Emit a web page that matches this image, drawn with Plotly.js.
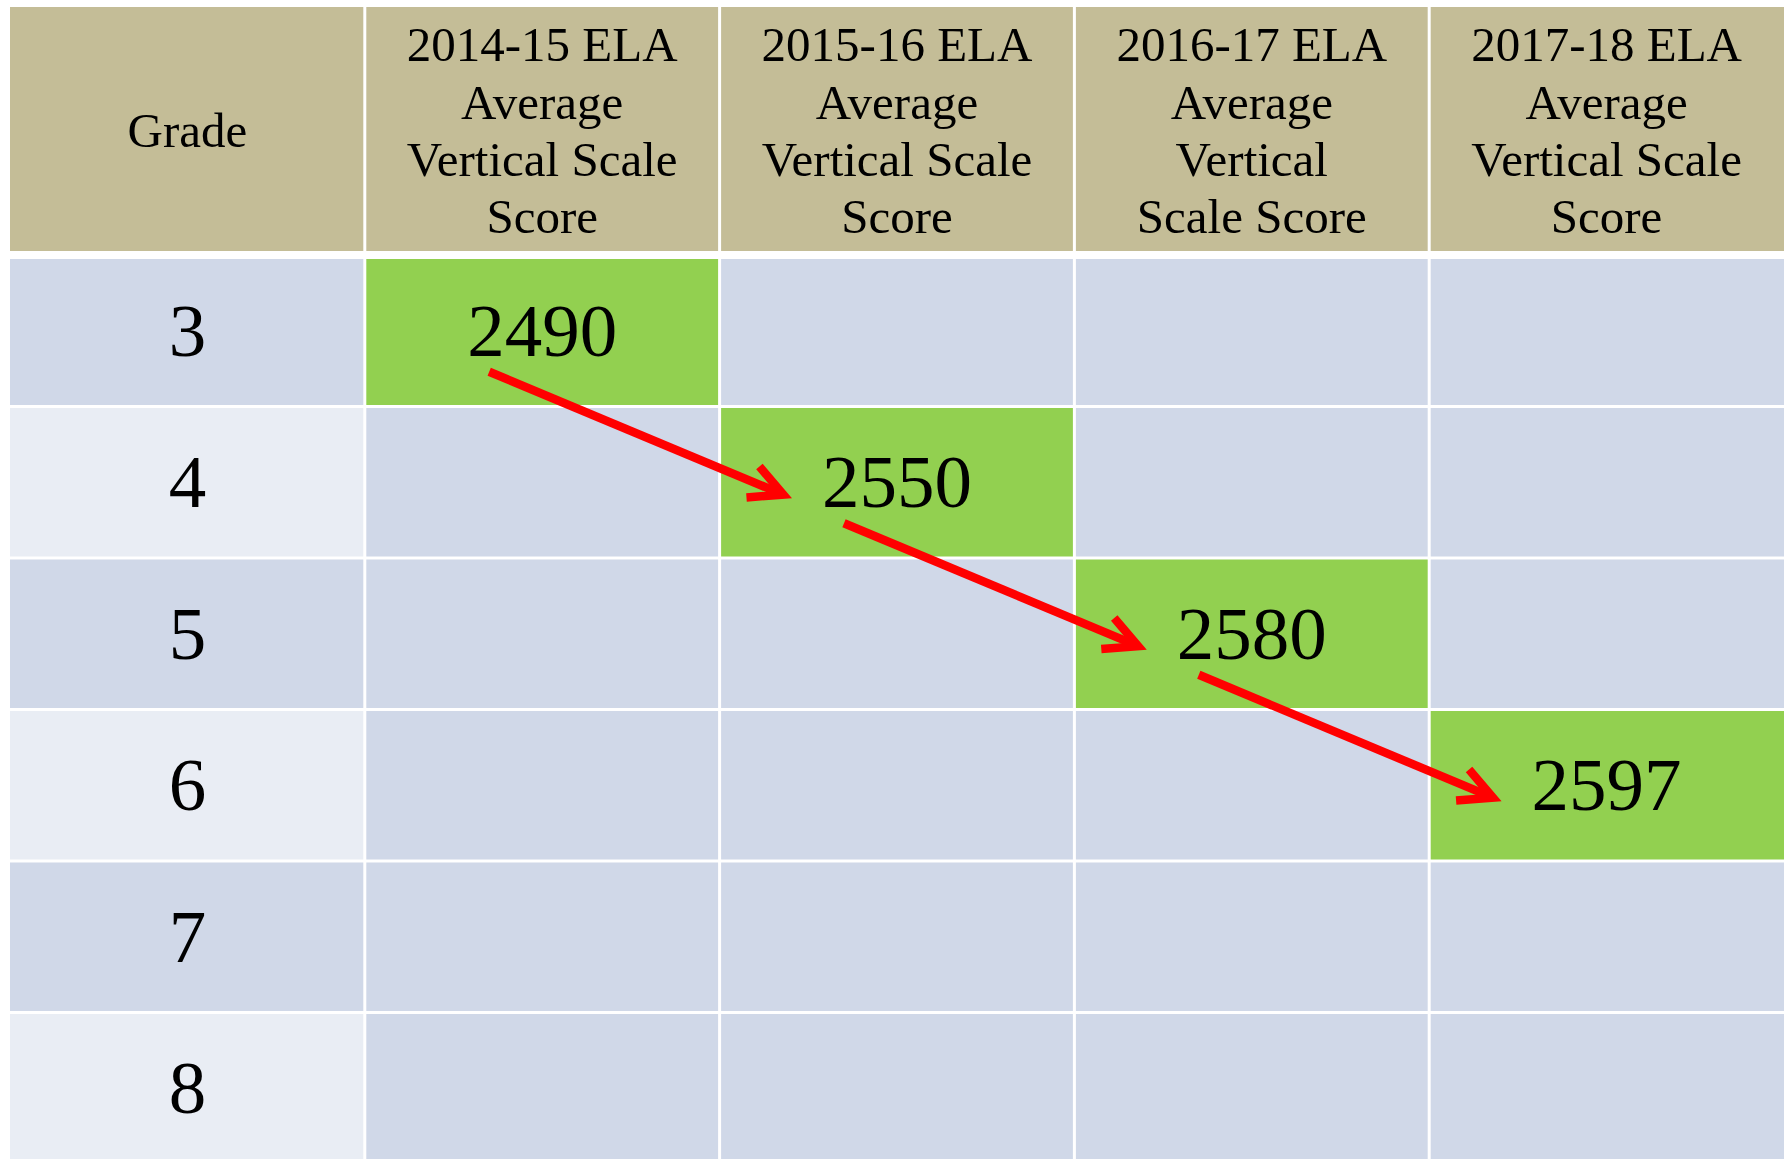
<!DOCTYPE html>
<html>
<head>
<meta charset="utf-8">
<script src="https://cdn.plot.ly/plotly-3.0.1.min.js"></script>
<style>
  html, body { margin: 0; padding: 0; background: #ffffff; }
  #chart { width: 1790px; height: 1159px; }
</style>
</head>
<body>
<div id="chart"></div>
<script>
// ---------------- DATA ----------------
const headers = [
  'Grade',
  '2014-15 ELA<br>Average<br>Vertical Scale<br>Score',
  '2015-16 ELA<br>Average<br>Vertical Scale<br>Score',
  '2016-17 ELA<br>Average<br>Vertical<br>Scale Score',
  '2017-18 ELA<br>Average<br>Vertical Scale<br>Score'
];
const grades = ['3', '4', '5', '6', '7', '8'];
const score201415 = [2490, null, null, null, null, null];
const score201516 = [null, 2550, null, null, null, null];
const score201617 = [null, null, 2580, null, null, null];
const score201718 = [null, null, null, 2597, null, null];
const scoreColumns = [score201415, score201516, score201617, score201718];

// ---------------- STYLE / GEOMETRY ----------------
const W = 1790, H = 1159;
const FONT = 'Liberation Serif, Times New Roman, serif';
const C_HEADER = '#C4BD97';
const C_ROW = '#D0D8E8';
const C_ROW_LIGHT = '#E9EDF4';
const C_HILITE = '#92D050';
const C_ARROW = '#FF0000';

const tableLeft = 10, tableRight = 1784;
const headerTopPx = 7, bodyTopPx = 255;
const rowPx = 151.5;
const nCols = headers.length;
const ux = (tableRight - tableLeft) / nCols;  // px per x unit
const uy = rowPx;                              // px per y unit
const halfGap = 1.5;       // px, white line between cells
const headGap = 4;         // px, half of thicker line under header
const headerTop = -(bodyTopPx - headerTopPx) / uy;
const headerCenter = (headerTop + (-headGap / uy)) / 2;
const headerLinePx = 57.3;
const textShift = 6 / uy;  // small downward nudge for text baseline

const xRange = [-tableLeft / ux, (W - tableLeft) / ux];
const yRange = [(H - bodyTopPx) / uy, -bodyTopPx / uy];

// ---------------- CELLS ----------------
const shapes = [];
function rect(x0, x1, y0, y1, color) {
  shapes.push({type: 'rect', xref: 'x', yref: 'y', x0: x0, x1: x1, y0: y0, y1: y1,
    fillcolor: color, line: {width: 0}, layer: 'below'});
}
function colBounds(c) {
  const x0 = c + (c === 0 ? 0 : halfGap / ux);
  const x1 = c + 1 - (c === nCols - 1 ? 0 : halfGap / ux);
  return [x0, x1];
}
// header row
for (let c = 0; c < nCols; c++) {
  const [x0, x1] = colBounds(c);
  rect(x0, x1, headerTop, -headGap / uy, C_HEADER);
}
// body rows
for (let r = 0; r < grades.length; r++) {
  const y0 = r + (r === 0 ? headGap : halfGap) / uy;
  const y1 = r + 1 - halfGap / uy;
  for (let c = 0; c < nCols; c++) {
    const [x0, x1] = colBounds(c);
    let color;
    if (c === 0) color = (r % 2 === 0) ? C_ROW : C_ROW_LIGHT;
    else color = (scoreColumns[c - 1][r] != null) ? C_HILITE : C_ROW;
    rect(x0, x1, y0, y1, color);
  }
}

// ---------------- TEXT ----------------
const traces = [];
// header lines
const hx = [], hy = [], ht = [];
headers.forEach((h, c) => {
  const lines = h.split('<br>');
  lines.forEach((ln, k) => {
    hx.push(c + 0.5);
    hy.push(headerCenter + textShift + (k - (lines.length - 1) / 2) * headerLinePx / uy);
    ht.push(ln);
  });
});
traces.push({type: 'scatter', mode: 'text', x: hx, y: hy, text: ht,
  textposition: 'middle center', cliponaxis: false, hoverinfo: 'skip', showlegend: false,
  textfont: {family: FONT, size: 49, color: '#000000'}});
// grade labels
traces.push({type: 'scatter', mode: 'text',
  x: grades.map(() => 0.5), y: grades.map((g, r) => r + 0.5 + textShift), text: grades,
  textposition: 'middle center', cliponaxis: false, hoverinfo: 'skip', showlegend: false,
  textfont: {family: FONT, size: 75, color: '#000000'}});
// scores
const sx = [], sy = [], st = [];
const cellsWithValue = [];
scoreColumns.forEach((col, ci) => {
  col.forEach((v, r) => {
    if (v != null) {
      sx.push(ci + 1.5); sy.push(r + 0.5 + textShift); st.push(String(v));
      cellsWithValue.push({c: ci + 1, r: r});
    }
  });
});
traces.push({type: 'scatter', mode: 'text', x: sx, y: sy, text: st,
  textposition: 'middle center', cliponaxis: false, hoverinfo: 'skip', showlegend: false,
  textfont: {family: FONT, size: 75, color: '#000000'}});

// ---------------- ARROWS (between consecutive highlighted cells) ----------------
const startOff = [-53, 41];     // px from source cell centre
const tipOff = [-105, 16];      // px from target cell centre (visible tip)
const armLen = 37, armAngle = 27 * Math.PI / 180, lw = 8.5;
for (let i = 0; i + 1 < cellsWithValue.length; i++) {
  const a = cellsWithValue[i], b = cellsWithValue[i + 1];
  const sxp = (a.c + 0.5) * ux + startOff[0], syp = (a.r + 0.5) * uy + startOff[1];
  const txp = (b.c + 0.5) * ux + tipOff[0], typ = (b.r + 0.5) * uy + tipOff[1];
  const dx = txp - sxp, dy = typ - syp, len = Math.hypot(dx, dy);
  const bx = -dx / len, by = -dy / len;
  const back = (lw / 2) / Math.sin(armAngle);
  const gx = txp + bx * back, gy = typ + by * back;
  const arm = s => {
    const ang = s * armAngle;
    const rx = bx * Math.cos(ang) - by * Math.sin(ang);
    const ry = bx * Math.sin(ang) + by * Math.cos(ang);
    return [gx + rx * armLen, gy + ry * armLen];
  };
  const p1 = arm(1), p2 = arm(-1);
  const X = px => px / ux, Y = py => py / uy;
  shapes.push({type: 'line', xref: 'x', yref: 'y', x0: X(sxp), y0: Y(syp), x1: X(gx), y1: Y(gy),
    line: {color: C_ARROW, width: lw}, layer: 'above'});
  shapes.push({type: 'path', xref: 'x', yref: 'y',
    path: 'M' + X(p1[0]) + ',' + Y(p1[1]) + ' L' + X(gx) + ',' + Y(gy) + ' L' + X(p2[0]) + ',' + Y(p2[1]),
    line: {color: C_ARROW, width: lw}, layer: 'above'});
}

const layout = {
  width: W, height: H,
  margin: {l: 0, r: 0, t: 0, b: 0, pad: 0},
  paper_bgcolor: '#ffffff', plot_bgcolor: '#ffffff',
  showlegend: false,
  xaxis: {range: xRange, visible: false, showgrid: false, zeroline: false, fixedrange: true},
  yaxis: {range: yRange, visible: false, showgrid: false, zeroline: false, fixedrange: true},
  shapes: shapes
};

Plotly.newPlot('chart', traces, layout, {staticPlot: true, displayModeBar: false});
</script>
</body>
</html>
